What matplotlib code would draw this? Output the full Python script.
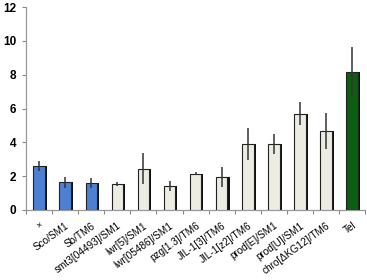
import matplotlib
matplotlib.use("Agg")
import matplotlib.pyplot as plt
import matplotlib.transforms as mtransforms
import numpy as np

plt.rcParams["font.family"] = ["Liberation Sans", "DejaVu Sans"]

categories = ["×", "Sco/SM1", "Sb/TM6", "smt3[04493]/SM1", "lwr[5]/SM1",
              "lwr[05486]/SM1", "pzg[1.3]/TM6", "JIL-1[3]/TM6", "JIL-1[z2]/TM6",
              "prod[E]/SM1", "prod[U]/SM1", "chro[ΔKG12]/TM6", "Tel"]
values = [2.6, 1.65, 1.6, 1.53, 2.45, 1.42, 2.15, 1.95, 3.9, 3.9, 5.68, 4.67, 8.17]
errors = [0.32, 0.33, 0.27, 0.1, 0.9, 0.32, 0.08, 0.6, 0.97, 0.6, 0.68, 1.05, 1.48]
groups = ["blue", "blue", "blue", "cream", "cream", "cream", "cream", "cream",
          "cream", "cream", "cream", "cream", "green"]

COLORS = {"blue": "#4d80d3", "cream": "#edece2", "green": "#0b5e12"}

fig = plt.figure(figsize=(3.67, 2.80), dpi=100)
ax = fig.add_axes([0.071, 0.25, 0.924, 0.725])

x = np.arange(len(categories))
width = 0.44
# dark shadow on the right side of each bar
ax.bar(x + 0.08, values, width, color="#111111", zorder=2)
ax.bar(x, values, width, color=[COLORS[g] for g in groups],
       edgecolor="#222222", linewidth=0.8, zorder=3)
ax.errorbar(x, values, yerr=errors, fmt="none", ecolor="#333333",
            elinewidth=1.1, capsize=0, zorder=4)

ax.set_xlim(-0.5, len(categories) - 0.5)
ax.set_ylim(0, 12)
ax.set_yticks(range(0, 13, 2))
ax.set_yticklabels([str(v) for v in range(0, 13, 2)], fontsize=8.5, fontweight="bold")
ax.tick_params(axis="y", length=3, width=0.8, color="#888888", pad=4)

ax.set_xticks(np.arange(-0.5, len(categories), 1.0), minor=False)
ax.set_xticklabels([])
ax.set_xticks(x, minor=True)
labels = ax.set_xticklabels(categories, minor=True, rotation=36, ha="right",
                            rotation_mode="anchor", fontsize=7.2)
shift = mtransforms.ScaledTranslation(5 / 100, 0, fig.dpi_scale_trans)
for lab in labels:
    lab.set_transform(lab.get_transform() + shift)
labels[0].set_fontsize(6.5)
ax.tick_params(axis="x", which="major", length=3, width=0.8, color="#888888")
ax.tick_params(axis="x", which="minor", length=0, pad=7.5)

for side in ["top", "right"]:
    ax.spines[side].set_visible(False)
for side in ["left", "bottom"]:
    ax.spines[side].set_color("#999999")
    ax.spines[side].set_linewidth(0.9)

fig.savefig("out.png", dpi=100)
